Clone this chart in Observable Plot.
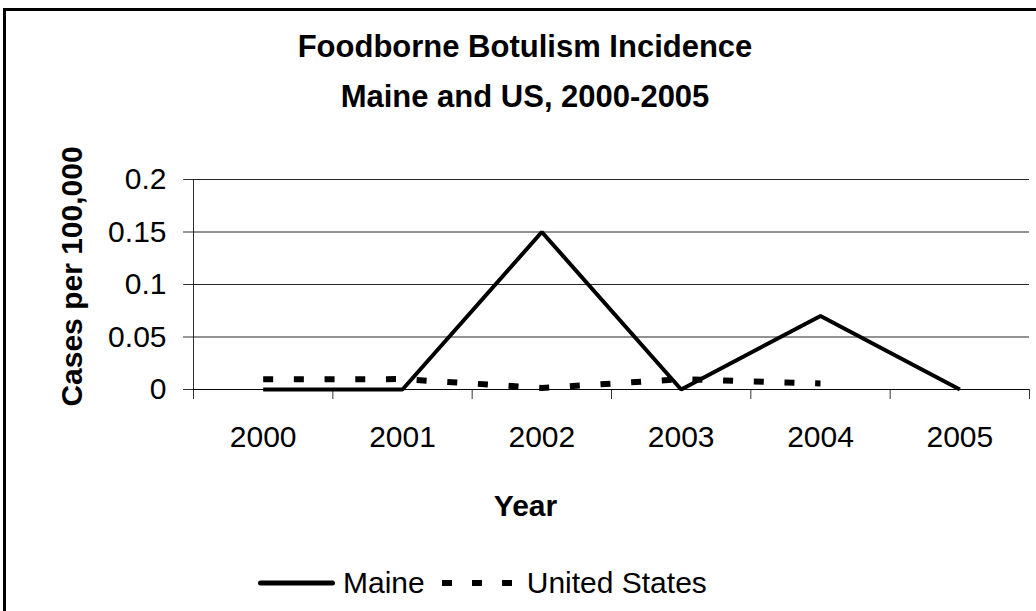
<!DOCTYPE html>
<html><head><meta charset="utf-8">
<script src="https://cdn.jsdelivr.net/npm/d3@7"></script>
<script src="https://cdn.jsdelivr.net/npm/@observablehq/plot@0.6"></script>
<style>
body{margin:0;background:#fff;overflow:hidden;}
#root{position:relative;width:1036px;height:611px;overflow:hidden;font-family:"Liberation Sans",Arial,sans-serif;color:#000;background:#fff;}
#frame{position:absolute;left:3px;top:8px;width:1100px;height:700px;border-left:3px solid #000;border-top:3px solid #000;pointer-events:none;}
#title{position:absolute;left:3px;width:1044px;top:22px;text-align:center;font-weight:bold;font-size:31px;line-height:50px;}
#plot{position:absolute;left:0;top:130px;}
#legend{position:absolute;left:258px;top:563px;height:40px;display:flex;align-items:center;font-size:30px;white-space:nowrap;}
#legend svg{display:block;}
</style>
</head><body>
<div id="root">
  <div id="title">Foodborne Botulism Incidence<br>Maine and US, 2000-2005</div>
  <div id="plot"></div>
  <div id="legend"></div>
  <div id="frame"></div>
</div>
<script>
// ---- data ----
const years = [2000, 2001, 2002, 2003, 2004, 2005];
const maineRates = [0, 0, 0.15, 0, 0.07, 0];
const usYears = [2000, 2001, 2002, 2003, 2004];
const usRates = [0.0097, 0.0099, 0.0015, 0.0098, 0.0057];
const yTicks = [0, 0.05, 0.1, 0.15, 0.2];
const yTickLabels = ["0", "0.05", "0.1", "0.15", "0.2"];
const seriesNames = ["Maine", "United States"];
const xTitle = "Year";
const yTitle = "Cases per 100,000";

// ---- derived tables ----
const maine = years.map((yr, i) => ({year: yr, rate: maineRates[i]}));
const us = usYears.map((yr, i) => ({year: yr, rate: usRates[i]}));
const boundaries = [years[0] - 0.5, ...years.map(y => y + 0.5)];

const chart = Plot.plot({
  width: 1036,
  height: 400,
  marginLeft: 193,
  marginRight: 7,
  marginTop: 49,
  marginBottom: 141,
  style: {fontFamily: '"Liberation Sans", Arial, sans-serif', color: "#000", background: "transparent"},
  x: {type: "linear", domain: [boundaries[0], boundaries[boundaries.length - 1]]},
  y: {domain: [0, 0.2]},
  marks: [
    Plot.gridY(yTicks, {stroke: "#000", strokeOpacity: 0.85, strokeWidth: 1}),
    Plot.ruleX([boundaries[0]], {y1: 0, y2: 0.2, stroke: "#000", strokeOpacity: 0.8}),
    Plot.ruleY([0], {stroke: "#000", strokeOpacity: 0.8}),
    Plot.axisY(yTicks, {
      tickSize: 10, tickPadding: 17, fontSize: 30,
      tickFormat: d => yTickLabels[yTicks.indexOf(d)],
      label: null, strokeOpacity: 0.8
    }),
    Plot.axisX(boundaries, {tickSize: 10, tickFormat: () => "", label: null, strokeOpacity: 0.8}),
    Plot.axisX(years, {
      tickSize: 0, tickPadding: 36, fontSize: 30,
      tickFormat: d => String(d), label: null
    }),
    Plot.text([xTitle], {frameAnchor: "bottom", dx: -86, dy: 117, lineAnchor: "middle", textAnchor: "middle", fontSize: 30, fontWeight: "bold", fill: "#000"}),
    Plot.text([yTitle], {frameAnchor: "left", rotate: -90, dx: -121, dy: -8, lineAnchor: "middle", textAnchor: "middle", fontSize: 30, fontWeight: "bold", fill: "#000"}),
    Plot.line(maine, {x: "year", y: "rate", stroke: "#000", strokeWidth: 4, strokeLinejoin: "miter", strokeLinecap: "butt"}),
    Plot.line(us, {x: "year", y: "rate", stroke: "#000", strokeWidth: 6, strokeDasharray: "10,20.7", strokeLinecap: "butt"})
  ]
});
document.getElementById("plot").appendChild(chart);

// ---- legend ----
const legend = document.getElementById("legend");
legend.innerHTML =
  '<svg width="77" height="10"><line x1="2.5" y1="5" x2="74.5" y2="5" stroke="#000" stroke-width="5" stroke-linecap="round"/></svg>' +
  '<span style="margin-left:8px">' + seriesNames[0] + '</span>' +
  '<svg width="70" height="10" style="margin-left:17px"><line x1="0" y1="5" x2="70" y2="5" stroke="#000" stroke-width="6" stroke-dasharray="10,20"/></svg>' +
  '<span style="margin-left:15px">' + seriesNames[1] + '</span>';
</script>
</body></html>
